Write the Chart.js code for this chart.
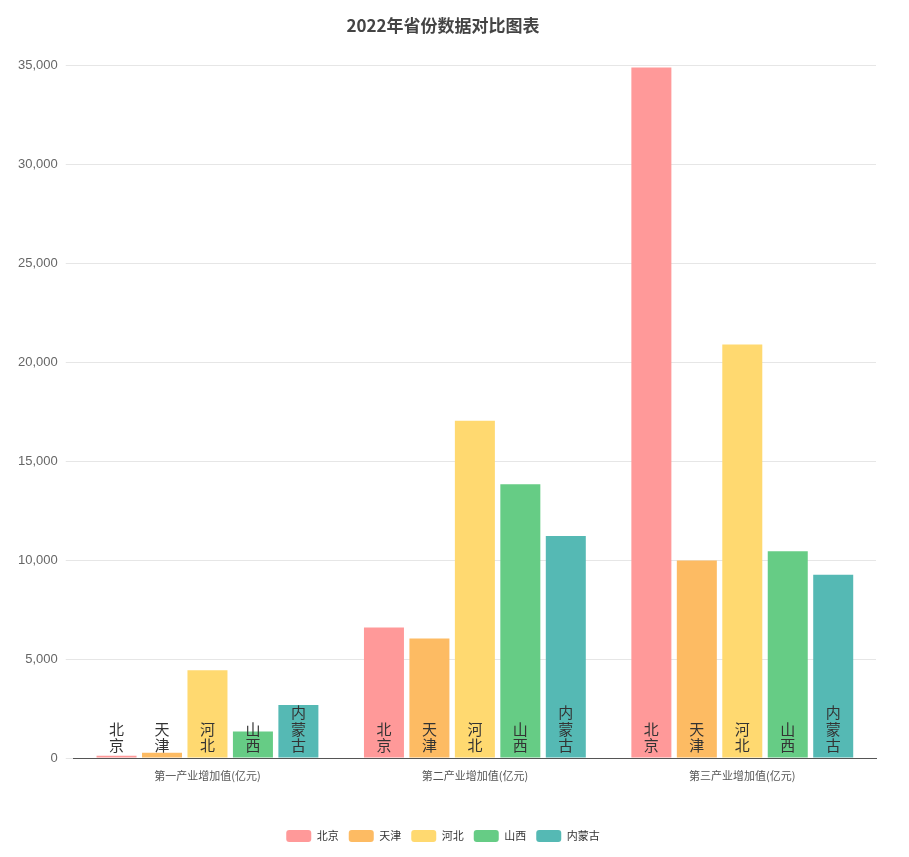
<!DOCTYPE html>
<html>
<head>
<meta charset="utf-8">
<script src="https://cdn.jsdelivr.net/npm/chart.js@4"></script>
<style>
  body { margin: 0; background: #fff; }
  #wrap { width: 909px; height: 857px; }
</style>
</head>
<body>
<div id="wrap"><canvas id="canvas"></canvas></div>
<script>
// categories and series
let categories = ['第一产业增加值(亿元)', '第二产业增加值(亿元)', '第三产业增加值(亿元)'];
let provinces = ['北京', '天津', '河北', '山西', '内蒙古'];
let beijing = [110, 6600, 34900];
let tianjin = [270, 6040, 9980];
let hebei = [4430, 17040, 20900];
let shanxi = [1340, 13840, 10450];
let neimenggu = [2680, 11220, 9260];
let colors = ['#FF9999', '#FDBB63', '#FFD970', '#66CC85', '#55B9B4'];

let seriesValues = [beijing, tianjin, hebei, shanxi, neimenggu];
let datasets = provinces.map((p, i) => ({
  label: p,
  data: seriesValues[i],
  backgroundColor: colors[i],
  barPercentage: 0.88,
  categoryPercentage: 0.85
}));

// draw province names vertically inside the bottom of each bar
let barLabels = {
  id: 'barLabels',
  afterDatasetsDraw(chart) {
    let ctx = chart.ctx;
    ctx.save();
    ctx.font = '15px "Noto Sans CJK SC", sans-serif';
    ctx.fillStyle = '#333';
    ctx.textAlign = 'center';
    ctx.textBaseline = 'bottom';
    chart.data.datasets.forEach((ds, i) => {
      let meta = chart.getDatasetMeta(i);
      let chars = ds.label.split('');
      meta.data.forEach(bar => {
        let bottom = chart.scales.y.getPixelForValue(0) - 5;
        for (let k = chars.length - 1; k >= 0; k--) {
          ctx.fillText(chars[k], bar.x, bottom - (chars.length - 1 - k) * 16.5);
        }
      });
    });
    ctx.restore();
  }
};

new Chart(document.getElementById('canvas'), {
  type: 'bar',
  data: { labels: categories, datasets: datasets },
  plugins: [barLabels],
  options: {
    responsive: true,
    maintainAspectRatio: false,
    animation: false,
    layout: { padding: { left: 10, right: 33, top: 5, bottom: 5 } },
    plugins: {
      title: {
        display: true,
        text: '2022年省份数据对比图表',
        color: '#444',
        font: { size: 17, weight: 'bold', family: '"Noto Sans CJK SC", sans-serif' },
        padding: { top: 10, bottom: 30 }
      },
      legend: {
        position: 'bottom',
        labels: {
          boxWidth: 25, boxHeight: 12, useBorderRadius: true, borderRadius: 3,
          color: '#333', font: { size: 11, family: '"Noto Sans CJK SC", sans-serif' },
          padding: 10
        }
      },
      tooltip: { enabled: false }
    },
    scales: {
      x: {
        grid: { display: false },
        border: { color: '#555' },
        ticks: { color: '#555', font: { size: 11, family: '"Noto Sans CJK SC", sans-serif' } },
        afterFit(s) { s.height = 62; }
      },
      y: {
        min: 0, max: 35000,
        ticks: { stepSize: 5000, color: '#666', font: { size: 13 }, padding: 8 },
        grid: { color: '#e6e6e6' },
        border: { display: false }
      }
    }
  }
});
</script>
</body>
</html>
